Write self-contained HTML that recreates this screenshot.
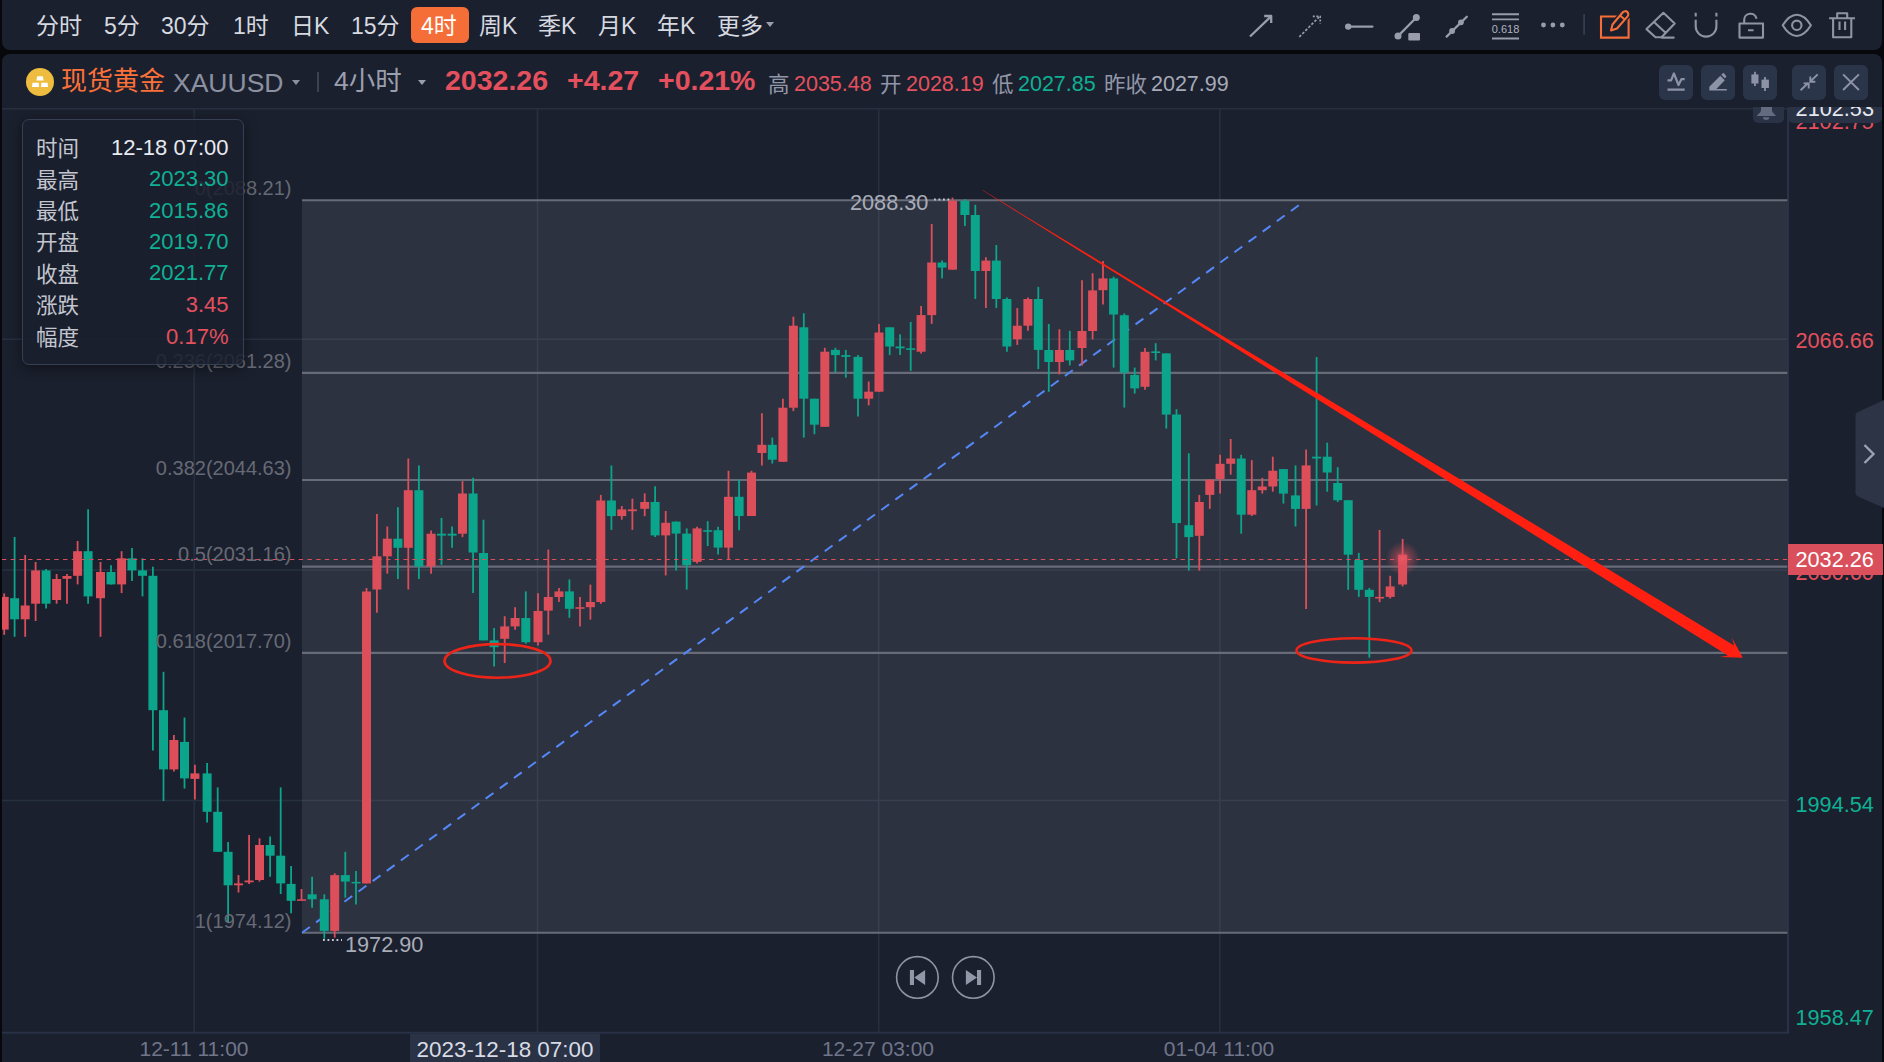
<!DOCTYPE html>
<html lang="zh"><head><meta charset="utf-8"><title>XAUUSD</title>
<style>
*{box-sizing:border-box;margin:0;padding:0}
html,body{width:1884px;height:1062px;overflow:hidden;background:#06080c}
body{font-family:"Liberation Sans","Noto Sans CJK SC",sans-serif;color:#d4d7de;position:relative}
.abs{position:absolute;white-space:nowrap}
#top{position:absolute;left:2px;top:-6px;width:1880px;height:56px;background:#1b202e;border-radius:8px}
#main{position:absolute;left:2px;top:54px;width:1880px;height:1014px;background:#1b202e;border-radius:8px 8px 0 0}
._tb{}.tb{position:absolute;top:9px;height:34px;line-height:34px;font-size:23px;color:#d6d9e0;white-space:nowrap}
.hd{position:absolute;white-space:nowrap;line-height:1}
.btn{position:absolute;top:64.700px;width:34.600px;height:35px;border-radius:6px;background:#2b3549}
.ax{position:absolute;left:1795.500px;font-size:21.700px;line-height:24px;white-space:nowrap}
.tl{position:absolute;top:1036px;font-size:21px;line-height:26px;color:#70768a;white-space:nowrap;transform:translateX(-50%)}
.fl{position:absolute;right:1592.500px;font-size:20px;line-height:24px;color:#666a75;white-space:nowrap;text-align:right}
#tip{position:absolute;left:22px;top:118.500px;width:222px;height:246px;border:1.5px solid #364053;border-radius:7px;background:rgba(27,32,46,.86);box-shadow:0 3px 14px rgba(0,0,0,.45)}
#tip div{position:absolute;left:13px;right:14px;height:30px;line-height:30px;font-size:21.500px;color:#c3c6cf}
#tip div span{position:absolute;right:.5px;top:-1.300px;font-size:22px}
.g{color:#0fb093}.r{color:#e4505d}
</style></head><body>
<div id="top"></div><div id="main"></div>

<div class="tb" style="left:36px">分时</div>
<div class="tb" style="left:104px">5分</div>
<div class="tb" style="left:161px">30分</div>
<div class="tb" style="left:233px">1时</div>
<div class="tb" style="left:291px">日K</div>
<div class="tb" style="left:351px">15分</div>
<div class="tb" style="left:479px">周K</div>
<div class="tb" style="left:538px">季K</div>
<div class="tb" style="left:598px">月K</div>
<div class="tb" style="left:657px">年K</div>
<div class="tb" style="left:717px">更多</div>
<div class="abs" style="left:411px;top:6.500px;width:57.500px;height:36.500px;border-radius:6px;background:#f56d37"></div>
<div class="tb" style="left:421px;color:#fff">4时</div>
<div class="abs" style="left:766px;top:22px;width:0;height:0;border-left:4.5px solid transparent;border-right:4.5px solid transparent;border-top:5px solid #9a9fae"></div>
<svg class="abs" style="left:1240px;top:4px" width="630" height="44" viewBox="1240 4 630 44" fill="none" stroke="#989cab" stroke-width="2.300" stroke-linecap="round" stroke-linejoin="round">
<path d="M1250 36.500 L1270.500 16.800 M1264.200 16 H1271.200 V23.100" stroke-linecap="butt"/>
<g stroke-width="1.700" stroke-linecap="butt"><path d="M1299.300 36.900 L1319.200 16.900" stroke-dasharray="2.600 1.700"/><path d="M1312.800 16.400 H1320.200 V23.600" stroke-dasharray="2 1.500"/></g>
<path d="M1349 26.600 H1372.400" stroke-width="2.300"/><circle cx="1348.200" cy="26.600" r="3.200" fill="#989cab" stroke="none"/>
<path d="M1398 36.100 L1416.300 17.500"/><circle cx="1398" cy="36.100" r="3.500" fill="#989cab" stroke="none"/><circle cx="1416.300" cy="17.500" r="3.500" fill="#989cab" stroke="none"/><rect x="1408.300" y="33" width="11.700" height="7.600" rx="1" fill="#989cab" stroke="none"/>
<path d="M1446.600 36.600 L1466.800 16.700"/><circle cx="1452.100" cy="31" r="2.900" fill="#989cab" stroke="none"/><circle cx="1460.900" cy="22.300" r="2.900" fill="#989cab" stroke="none"/>
<path d="M1492 14.300 H1519 M1492 19.400 H1519 M1492 38.500 H1519" stroke-width="1.900" stroke-linecap="butt"/>
<g fill="#989cab" stroke="none"><circle cx="1543.500" cy="25" r="2.400"/><circle cx="1552.900" cy="25" r="2.400"/><circle cx="1562.300" cy="25" r="2.400"/></g>
<path d="M1584.100 14 V34.800" stroke="#39425a" stroke-width="1.500" stroke-linecap="butt"/>
<g stroke="#f56d37" stroke-width="2.100" stroke-linejoin="miter" stroke-linecap="butt"><path d="M1601 16.500 H1628.600 V37.600 H1601 Z"/><path d="M1611 30.500 L1612.500 24.500 L1622.800 12.300 L1627.600 16.300 L1617 28.500 Z" fill="#1b202e" stroke="#1b202e" stroke-width="5"/><path d="M1611 30.500 L1612.500 24.500 L1622.800 12.300 A3.100 3.100 0 0 1 1627.600 16.300 L1617 28.500 Z M1620 15.500 L1624.800 19.500" stroke-linejoin="round"/></g>
<g stroke="#8f94a4" stroke-width="2.100"><path d="M1646.500 29.100 L1663.400 12.800 L1674.700 23.500 L1661.500 37.300 H1655.500 Z M1654 22 L1665.800 33 M1661.500 37.600 H1673.700"/>
<path d="M1695.700 19.700 V26.300 a10.350 10.350 0 0 0 20.700 0 V19.700 M1695.700 12.800 V16.500 M1716.400 12.800 V16.500" stroke-linecap="butt"/>
<path d="M1739.500 23.500 H1763 V37.600 H1739.500 Z M1744.200 23.500 V20 a6.200 6.200 0 0 1 12.300 -1.200 M1748 30.200 H1753.600" stroke-linecap="butt"/>
<path d="M1782.700 25.300 C1787.500 17.500 1793 14.700 1796.800 14.700 C1800.600 14.700 1806.100 17.500 1810.900 25.300 C1806.100 33.200 1800.600 36 1796.800 36 C1793 36 1787.500 33.200 1782.700 25.300 Z"/><circle cx="1796.800" cy="25.300" r="4.700"/>
<path d="M1829.100 18.200 H1855 M1833.100 18.200 V37.200 H1851.300 V18.200 M1837.200 18.200 V13.200 H1847.200 V18.200 M1839.500 21.600 V30 M1845.100 21.600 V30" stroke-linecap="butt"/></g>
</svg>
<div class="abs" style="left:1490px;top:23.300px;width:31px;font-size:11px;line-height:12px;color:#b0b4c0;text-align:center">0.618</div>
<div class="abs" style="left:26px;top:68px;width:28px;height:28px;border-radius:50%;background:#eebd3f"></div>
<svg class="abs" style="left:26px;top:68px" width="28" height="28" viewBox="0 0 28 28"><path d="M11.300 8.300 h5.400 l1 4.100 h-7.400 Z M6.500 14.800 h6.200 l.4 4.200 h-7.200 Z M15.400 14.800 h6.200 l.5 4.200 h-7.100 Z" fill="#fff"/></svg>
<div class="hd" style="left:61px;top:68px;font-size:26px;color:#fb7139">现货黄金</div>
<div class="hd" style="left:173px;top:70px;font-size:26.500px;color:#8c91a2">XAUUSD</div>
<div class="abs" style="left:291.500px;top:80px;width:0;height:0;border-left:4.5px solid transparent;border-right:4.5px solid transparent;border-top:5px solid #8c91a2"></div>
<div class="abs" style="left:317px;top:72px;width:2px;height:20px;background:#3a4254"></div>
<div class="hd" style="left:334px;top:68px;font-size:26.500px;color:#9a9fb0">4小时</div>
<div class="abs" style="left:417.500px;top:80px;width:0;height:0;border-left:4.5px solid transparent;border-right:4.5px solid transparent;border-top:5px solid #9a9fb0"></div>
<div class="hd r" style="left:445px;top:66px;font-size:28.500px;font-weight:bold">2032.26</div>
<div class="hd r" style="left:567px;top:66px;font-size:28.500px;font-weight:bold">+4.27</div>
<div class="hd r" style="left:658px;top:66px;font-size:28.500px;font-weight:bold">+0.21%</div>
<div class="hd" style="left:768px;top:74.5px;font-size:21.500px;color:#9196a8">高</div>
<div class="hd" style="left:794px;top:73.5px;font-size:21.500px;color:#e4505d">2035.48</div>
<div class="hd" style="left:880px;top:74.5px;font-size:21.500px;color:#9196a8">开</div>
<div class="hd" style="left:906px;top:73.5px;font-size:21.500px;color:#e4505d">2028.19</div>
<div class="hd" style="left:992px;top:74.5px;font-size:21.500px;color:#9196a8">低</div>
<div class="hd" style="left:1018px;top:73.5px;font-size:21.500px;color:#0fb093">2027.85</div>
<div class="hd" style="left:1104px;top:74.5px;font-size:21.500px;color:#9196a8">昨收</div>
<div class="hd" style="left:1151px;top:73.5px;font-size:21.500px;color:#a6aab8">2027.99</div>
<div class="btn" style="left:1658.7px"></div>
<div class="btn" style="left:1700.6px"></div>
<div class="btn" style="left:1742.5px"></div>
<div class="btn" style="left:1791.5px"></div>
<div class="btn" style="left:1833.5px"></div>
<svg class="abs" style="left:1655px;top:60px" width="220" height="44" viewBox="1655 60 220 44" fill="none" stroke="#8d93a6" stroke-width="2.100" stroke-linecap="butt" stroke-linejoin="round">
<path d="M1667.500 80.300 H1671.100 L1673.900 73.400 L1678.500 85 L1681.400 79.200 H1684.700 M1667.500 89.700 H1684.700" stroke-width="2.200"/>
<path d="M1709.300 90.600 V86.700 L1720.300 75.700 L1724.800 80.300 L1716.400 88.900 H1726.800 V90.600 Z M1721.300 74.700 L1723.500 72.700 L1726.500 76.400 L1724.800 78.300 Z" fill="#8d93a6" stroke="none"/>
<path d="M1755 71.800 V86.100 M1765 77 V91" stroke-width="1.800"/><rect x="1751.400" y="74.400" width="7.100" height="9.100" fill="#8d93a6" stroke="none"/><rect x="1761.500" y="79.600" width="7.400" height="8.400" fill="#8d93a6" stroke="none"/>
<path d="M1800.600 90.200 L1808.400 82.800 M1803.600 83.400 H1808.700 V88.600 M1817.700 74.400 L1810.300 81.500 M1810.300 76.600 V81.700 H1815.300" stroke-width="1.900" stroke-linejoin="miter"/>
<path d="M1843.100 74.400 L1858.900 90 M1858.900 74.400 L1843.100 90" stroke-width="2"/>
</svg>
<svg class="abs" style="left:0;top:108px" width="1884" height="954" viewBox="0 108 1884 954">
<defs><radialGradient id="glow"><stop offset="0" stop-color="#ee5866" stop-opacity=".9"/><stop offset=".45" stop-color="#e4505d" stop-opacity=".38"/><stop offset="1" stop-color="#e4505d" stop-opacity="0"/></radialGradient><clipPath id="cp"><rect x="2" y="108" width="1785" height="924"/></clipPath></defs>
<g stroke="#273041" stroke-width="1.5">
<path d="M2 108.7 H1787"/>
<path d="M2 339.3 H1787"/>
<path d="M2 570 H1787"/>
<path d="M2 800.5 H1787"/>
<path d="M194.2 108 V1032"/>
<path d="M537.5 108 V1032"/>
<path d="M878.7 108 V1032"/>
<path d="M1219.8 108 V1032"/>
<path d="M2 1032.700 H1789 M1788 108 V1033.700" stroke="#283145" stroke-width="2"/>
</g>
<rect x="302" y="200.300" width="1485.300" height="732.400" fill="#8b8f9c" fill-opacity=".17"/>
<g stroke="#686b78" stroke-width="2.100">
<path d="M302 200.3 H1787.300"/>
<path d="M302 372.9 H1787.300"/>
<path d="M302 480 H1787.300"/>
<path d="M302 566.6 H1787.300"/>
<path d="M302 652.9 H1787.300"/>
<path d="M302 932.7 H1787.300"/>
</g>
<path d="M302 932.700 L1300.500 204" stroke="#5488f8" stroke-width="2" stroke-dasharray="9.700 7.790"/>
<g clip-path="url(#cp)">
<path d="M4.2 593.4 V634.8" stroke="#dc4e5a" stroke-width="1.800"/><rect x="-0.3" y="596.9" width="9" height="32.7" fill="#dc4e5a"/>
<path d="M14.6 536.9 V636.8" stroke="#0ba58b" stroke-width="1.800"/><rect x="10.1" y="598.2" width="9" height="21.1" fill="#0ba58b"/>
<path d="M25.2 555.0 V636.8" stroke="#dc4e5a" stroke-width="1.800"/><rect x="20.7" y="605.5" width="9" height="13.8" fill="#dc4e5a"/>
<path d="M35.6 562.0 V621.0" stroke="#dc4e5a" stroke-width="1.800"/><rect x="31.1" y="570.4" width="9" height="33.3" fill="#dc4e5a"/>
<path d="M46.1 569.0 V608.5" stroke="#0ba58b" stroke-width="1.800"/><rect x="41.6" y="570.4" width="9" height="33.3" fill="#0ba58b"/>
<path d="M56.6 574.0 V603.7" stroke="#dc4e5a" stroke-width="1.800"/><rect x="52.1" y="579.0" width="9" height="21.0" fill="#dc4e5a"/>
<path d="M67 574.0 V603.7" stroke="#dc4e5a" stroke-width="1.800"/><rect x="62.5" y="576.0" width="9" height="2.8" fill="#dc4e5a"/>
<path d="M77.6 541.0 V584.4" stroke="#dc4e5a" stroke-width="1.800"/><rect x="73.1" y="551.2" width="9" height="24.6" fill="#dc4e5a"/>
<path d="M88.1 509.3 V603.7" stroke="#0ba58b" stroke-width="1.800"/><rect x="83.6" y="551.2" width="9" height="45.2" fill="#0ba58b"/>
<path d="M100.5 562.0 V636.8" stroke="#dc4e5a" stroke-width="1.800"/><rect x="96.0" y="572.0" width="9" height="26.2" fill="#dc4e5a"/>
<path d="M111 565.2 V584.4" stroke="#0ba58b" stroke-width="1.800"/><rect x="106.5" y="572.0" width="9" height="12.4" fill="#0ba58b"/>
<path d="M121.6 551.2 V593.1" stroke="#dc4e5a" stroke-width="1.800"/><rect x="117.1" y="558.3" width="9" height="26.1" fill="#dc4e5a"/>
<path d="M132 547.9 V580.9" stroke="#0ba58b" stroke-width="1.800"/><rect x="127.5" y="558.3" width="9" height="12.1" fill="#0ba58b"/>
<path d="M142.5 558.3 V596.4" stroke="#0ba58b" stroke-width="1.800"/><rect x="138.0" y="570.4" width="9" height="5.4" fill="#0ba58b"/>
<path d="M152.9 566.8 V750.4" stroke="#0ba58b" stroke-width="1.800"/><rect x="148.4" y="575.8" width="9" height="134.4" fill="#0ba58b"/>
<path d="M163.5 671.8 V801.0" stroke="#0ba58b" stroke-width="1.800"/><rect x="159.0" y="710.2" width="9" height="59.2" fill="#0ba58b"/>
<path d="M173.9 735.0 V771.6" stroke="#dc4e5a" stroke-width="1.800"/><rect x="169.4" y="740.0" width="9" height="29.4" fill="#dc4e5a"/>
<path d="M184.5 717.5 V788.6" stroke="#0ba58b" stroke-width="1.800"/><rect x="180.0" y="741.9" width="9" height="36.5" fill="#0ba58b"/>
<path d="M194.9 764.8 V799.4" stroke="#dc4e5a" stroke-width="1.800"/><rect x="190.4" y="773.4" width="9" height="5.5" fill="#dc4e5a"/>
<path d="M207.1 763.0 V822.5" stroke="#0ba58b" stroke-width="1.800"/><rect x="202.6" y="773.4" width="9" height="38.4" fill="#0ba58b"/>
<path d="M217.7 787.4 V851.8" stroke="#0ba58b" stroke-width="1.800"/><rect x="213.2" y="811.8" width="9" height="40.0" fill="#0ba58b"/>
<path d="M228.1 842.1 V921.9" stroke="#0ba58b" stroke-width="1.800"/><rect x="223.6" y="851.8" width="9" height="33.5" fill="#0ba58b"/>
<path d="M238.5 875.1 V892.5" stroke="#dc4e5a" stroke-width="1.800"/><rect x="234.0" y="883.4" width="9" height="1.9" fill="#dc4e5a"/>
<path d="M249.1 834.9 V883.9" stroke="#dc4e5a" stroke-width="1.800"/><rect x="244.6" y="880.5" width="9" height="1.8" fill="#dc4e5a"/>
<path d="M259.5 838.3 V881.6" stroke="#dc4e5a" stroke-width="1.800"/><rect x="255.0" y="845.0" width="9" height="35.0" fill="#dc4e5a"/>
<path d="M270.1 836.5 V876.7" stroke="#0ba58b" stroke-width="1.800"/><rect x="265.6" y="845.0" width="9" height="10.7" fill="#0ba58b"/>
<path d="M280.7 787.4 V894.0" stroke="#0ba58b" stroke-width="1.800"/><rect x="276.2" y="855.7" width="9" height="27.7" fill="#0ba58b"/>
<path d="M291.1 866.0 V913.3" stroke="#0ba58b" stroke-width="1.800"/><rect x="286.6" y="883.9" width="9" height="16.9" fill="#0ba58b"/>
<path d="M301.5 889.0 V900.8" stroke="#dc4e5a" stroke-width="1.800"/><rect x="297.0" y="899.3" width="9" height="1.5" fill="#dc4e5a"/>
<path d="M312.1 876.7 V907.8" stroke="#0ba58b" stroke-width="1.800"/><rect x="307.6" y="894.3" width="9" height="5.0" fill="#0ba58b"/>
<path d="M324.3 894.3 V938.8" stroke="#0ba58b" stroke-width="1.800"/><rect x="319.8" y="899.3" width="9" height="31.6" fill="#0ba58b"/>
<path d="M334.7 873.3 V937.7" stroke="#dc4e5a" stroke-width="1.800"/><rect x="330.2" y="875.1" width="9" height="55.8" fill="#dc4e5a"/>
<path d="M345.3 851.8 V897.7" stroke="#0ba58b" stroke-width="1.800"/><rect x="340.8" y="875.1" width="9" height="6.5" fill="#0ba58b"/>
<path d="M356 871.0 V904.5" stroke="#0ba58b" stroke-width="1.800"/><rect x="351.5" y="881.9" width="9" height="1.5" fill="#0ba58b"/>
<path d="M366.5 588.0 V883.4" stroke="#dc4e5a" stroke-width="1.800"/><rect x="362.0" y="591.5" width="9" height="291.9" fill="#dc4e5a"/>
<path d="M376.9 514.1 V612.8" stroke="#dc4e5a" stroke-width="1.800"/><rect x="372.4" y="556.3" width="9" height="33.2" fill="#dc4e5a"/>
<path d="M387.3 526.5 V573.7" stroke="#dc4e5a" stroke-width="1.800"/><rect x="382.8" y="538.7" width="9" height="17.6" fill="#dc4e5a"/>
<path d="M397.9 507.3 V578.9" stroke="#0ba58b" stroke-width="1.800"/><rect x="393.4" y="538.7" width="9" height="9.1" fill="#0ba58b"/>
<path d="M408.3 458.5 V589.5" stroke="#dc4e5a" stroke-width="1.800"/><rect x="403.8" y="490.2" width="9" height="57.6" fill="#dc4e5a"/>
<path d="M418.9 465.5 V578.9" stroke="#0ba58b" stroke-width="1.800"/><rect x="414.4" y="490.2" width="9" height="76.3" fill="#0ba58b"/>
<path d="M431.1 530.4 V573.7" stroke="#dc4e5a" stroke-width="1.800"/><rect x="426.6" y="533.7" width="9" height="32.8" fill="#dc4e5a"/>
<path d="M441.5 517.9 V564.9" stroke="#0ba58b" stroke-width="1.800"/><rect x="437.0" y="533.7" width="9" height="1.9" fill="#0ba58b"/>
<path d="M452.1 526.5 V547.8" stroke="#0ba58b" stroke-width="1.800"/><rect x="447.6" y="533.7" width="9" height="1.9" fill="#0ba58b"/>
<path d="M462.5 481.1 V537.1" stroke="#dc4e5a" stroke-width="1.800"/><rect x="458.0" y="493.5" width="9" height="40.2" fill="#dc4e5a"/>
<path d="M473.1 477.7 V592.9" stroke="#0ba58b" stroke-width="1.800"/><rect x="468.6" y="493.5" width="9" height="59.0" fill="#0ba58b"/>
<path d="M483.5 519.7 V640.4" stroke="#0ba58b" stroke-width="1.800"/><rect x="479.0" y="553.0" width="9" height="87.4" fill="#0ba58b"/>
<path d="M494.1 628.0 V666.6" stroke="#0ba58b" stroke-width="1.800"/><rect x="489.6" y="640.4" width="9" height="6.8" fill="#0ba58b"/>
<path d="M504.7 616.2 V663.0" stroke="#dc4e5a" stroke-width="1.800"/><rect x="500.2" y="626.4" width="9" height="12.4" fill="#dc4e5a"/>
<path d="M515.1 607.2 V629.8" stroke="#dc4e5a" stroke-width="1.800"/><rect x="510.6" y="618.0" width="9" height="8.4" fill="#dc4e5a"/>
<path d="M525.8 591.4 V643.8" stroke="#0ba58b" stroke-width="1.800"/><rect x="521.3" y="618.0" width="9" height="24.2" fill="#0ba58b"/>
<path d="M538 593.2 V645.6" stroke="#dc4e5a" stroke-width="1.800"/><rect x="533.5" y="611.0" width="9" height="31.2" fill="#dc4e5a"/>
<path d="M548.3 549.6 V634.7" stroke="#dc4e5a" stroke-width="1.800"/><rect x="543.8" y="597.0" width="9" height="13.6" fill="#dc4e5a"/>
<path d="M559 588.0 V602.0" stroke="#dc4e5a" stroke-width="1.800"/><rect x="554.5" y="591.4" width="9" height="5.6" fill="#dc4e5a"/>
<path d="M569.4 579.4 V617.8" stroke="#0ba58b" stroke-width="1.800"/><rect x="564.9" y="591.4" width="9" height="17.4" fill="#0ba58b"/>
<path d="M580 597.0 V626.4" stroke="#dc4e5a" stroke-width="1.800"/><rect x="575.5" y="607.2" width="9" height="1.6" fill="#dc4e5a"/>
<path d="M590.4 584.6 V619.6" stroke="#dc4e5a" stroke-width="1.800"/><rect x="585.9" y="602.0" width="9" height="5.2" fill="#dc4e5a"/>
<path d="M600.8 494.9 V603.8" stroke="#dc4e5a" stroke-width="1.800"/><rect x="596.3" y="500.5" width="9" height="101.5" fill="#dc4e5a"/>
<path d="M611.4 465.5 V529.9" stroke="#0ba58b" stroke-width="1.800"/><rect x="606.9" y="500.5" width="9" height="15.6" fill="#0ba58b"/>
<path d="M621.8 506.0 V519.7" stroke="#dc4e5a" stroke-width="1.800"/><rect x="617.3" y="509.4" width="9" height="6.7" fill="#dc4e5a"/>
<path d="M632.4 498.7 V529.9" stroke="#dc4e5a" stroke-width="1.800"/><rect x="627.9" y="509.4" width="9" height="1.8" fill="#dc4e5a"/>
<path d="M644.7 493.4 V516.2" stroke="#dc4e5a" stroke-width="1.800"/><rect x="640.2" y="502.0" width="9" height="6.8" fill="#dc4e5a"/>
<path d="M655.1 486.2 V537.0" stroke="#0ba58b" stroke-width="1.800"/><rect x="650.6" y="502.0" width="9" height="33.4" fill="#0ba58b"/>
<path d="M665.7 511.0 V575.4" stroke="#dc4e5a" stroke-width="1.800"/><rect x="661.2" y="522.8" width="9" height="12.6" fill="#dc4e5a"/>
<path d="M676.1 521.6 V570.4" stroke="#0ba58b" stroke-width="1.800"/><rect x="671.6" y="521.6" width="9" height="12.0" fill="#0ba58b"/>
<path d="M686.7 528.4 V589.6" stroke="#0ba58b" stroke-width="1.800"/><rect x="682.2" y="533.6" width="9" height="31.6" fill="#0ba58b"/>
<path d="M697.1 526.8 V563.4" stroke="#dc4e5a" stroke-width="1.800"/><rect x="692.6" y="528.4" width="9" height="33.5" fill="#dc4e5a"/>
<path d="M707.7 521.2 V546.0" stroke="#0ba58b" stroke-width="1.800"/><rect x="703.2" y="530.2" width="9" height="1.6" fill="#0ba58b"/>
<path d="M718.1 526.8 V554.6" stroke="#0ba58b" stroke-width="1.800"/><rect x="713.6" y="530.2" width="9" height="17.4" fill="#0ba58b"/>
<path d="M728.5 470.8 V559.6" stroke="#dc4e5a" stroke-width="1.800"/><rect x="724.0" y="496.8" width="9" height="50.8" fill="#dc4e5a"/>
<path d="M739.1 479.4 V530.2" stroke="#0ba58b" stroke-width="1.800"/><rect x="734.6" y="496.8" width="9" height="19.2" fill="#0ba58b"/>
<path d="M751.5 470.8 V516.0" stroke="#dc4e5a" stroke-width="1.800"/><rect x="747.0" y="472.6" width="9" height="43.4" fill="#dc4e5a"/>
<path d="M761.9 413.2 V465.4" stroke="#dc4e5a" stroke-width="1.800"/><rect x="757.4" y="444.8" width="9" height="8.2" fill="#dc4e5a"/>
<path d="M772.3 437.6 V463.6" stroke="#0ba58b" stroke-width="1.800"/><rect x="767.8" y="444.8" width="9" height="14.9" fill="#0ba58b"/>
<path d="M782.9 398.7 V461.8" stroke="#dc4e5a" stroke-width="1.800"/><rect x="778.4" y="407.7" width="9" height="54.1" fill="#dc4e5a"/>
<path d="M793.4 316.7 V411.1" stroke="#dc4e5a" stroke-width="1.800"/><rect x="788.9" y="325.7" width="9" height="82.0" fill="#dc4e5a"/>
<path d="M803.8 313.3 V437.6" stroke="#0ba58b" stroke-width="1.800"/><rect x="799.3" y="327.3" width="9" height="71.4" fill="#0ba58b"/>
<path d="M814.4 398.7 V434.2" stroke="#0ba58b" stroke-width="1.800"/><rect x="809.9" y="398.7" width="9" height="26.0" fill="#0ba58b"/>
<path d="M824.8 347.8 V426.8" stroke="#dc4e5a" stroke-width="1.800"/><rect x="820.3" y="351.7" width="9" height="75.1" fill="#dc4e5a"/>
<path d="M835.4 347.8 V372.5" stroke="#0ba58b" stroke-width="1.800"/><rect x="830.9" y="349.9" width="9" height="5.2" fill="#0ba58b"/>
<path d="M845.8 349.9 V377.7" stroke="#0ba58b" stroke-width="1.800"/><rect x="841.3" y="355.1" width="9" height="1.8" fill="#0ba58b"/>
<path d="M858 355.1 V416.5" stroke="#0ba58b" stroke-width="1.800"/><rect x="853.5" y="356.9" width="9" height="41.8" fill="#0ba58b"/>
<path d="M868.7 381.5 V405.4" stroke="#dc4e5a" stroke-width="1.800"/><rect x="864.2" y="391.7" width="9" height="7.0" fill="#dc4e5a"/>
<path d="M879 323.9 V391.7" stroke="#dc4e5a" stroke-width="1.800"/><rect x="874.5" y="332.5" width="9" height="59.2" fill="#dc4e5a"/>
<path d="M889.7 327.3 V355.1" stroke="#0ba58b" stroke-width="1.800"/><rect x="885.2" y="327.3" width="9" height="19.2" fill="#0ba58b"/>
<path d="M900.1 334.3 V355.1" stroke="#0ba58b" stroke-width="1.800"/><rect x="895.6" y="346.5" width="9" height="1.8" fill="#0ba58b"/>
<path d="M910.7 321.9 V370.9" stroke="#0ba58b" stroke-width="1.800"/><rect x="906.2" y="348.3" width="9" height="1.6" fill="#0ba58b"/>
<path d="M921.1 306.0 V353.5" stroke="#dc4e5a" stroke-width="1.800"/><rect x="916.6" y="315.1" width="9" height="36.6" fill="#dc4e5a"/>
<path d="M931.7 224.0 V323.9" stroke="#dc4e5a" stroke-width="1.800"/><rect x="927.2" y="262.5" width="9" height="52.6" fill="#dc4e5a"/>
<path d="M942.1 260.6 V278.3" stroke="#0ba58b" stroke-width="1.800"/><rect x="937.6" y="262.5" width="9" height="5.1" fill="#0ba58b"/>
<path d="M952.5 197.6 V269.7" stroke="#dc4e5a" stroke-width="1.800"/><rect x="948.0" y="200.8" width="9" height="68.9" fill="#dc4e5a"/>
<path d="M964.9 199.2 V225.9" stroke="#0ba58b" stroke-width="1.800"/><rect x="960.4" y="200.8" width="9" height="14.2" fill="#0ba58b"/>
<path d="M975.3 204.8 V299.0" stroke="#0ba58b" stroke-width="1.800"/><rect x="970.8" y="215.0" width="9" height="56.0" fill="#0ba58b"/>
<path d="M985.9 257.3 V308.1" stroke="#dc4e5a" stroke-width="1.800"/><rect x="981.4" y="260.6" width="9" height="10.4" fill="#dc4e5a"/>
<path d="M996.3 245.0 V308.1" stroke="#0ba58b" stroke-width="1.800"/><rect x="991.8" y="260.6" width="9" height="38.4" fill="#0ba58b"/>
<path d="M1006.9 297.5 V351.7" stroke="#0ba58b" stroke-width="1.800"/><rect x="1002.4" y="299.0" width="9" height="47.5" fill="#0ba58b"/>
<path d="M1017.3 308.1 V344.9" stroke="#dc4e5a" stroke-width="1.800"/><rect x="1012.8" y="325.7" width="9" height="13.6" fill="#dc4e5a"/>
<path d="M1027.9 297.5 V330.7" stroke="#dc4e5a" stroke-width="1.800"/><rect x="1023.4" y="299.0" width="9" height="26.7" fill="#dc4e5a"/>
<path d="M1038.3 286.9 V369.1" stroke="#0ba58b" stroke-width="1.800"/><rect x="1033.8" y="299.0" width="9" height="50.9" fill="#0ba58b"/>
<path d="M1048.8 324.0 V391.8" stroke="#0ba58b" stroke-width="1.800"/><rect x="1044.3" y="350.0" width="9" height="12.0" fill="#0ba58b"/>
<path d="M1059.4 329.2 V374.4" stroke="#dc4e5a" stroke-width="1.800"/><rect x="1054.9" y="350.0" width="9" height="12.0" fill="#dc4e5a"/>
<path d="M1069.8 330.8 V365.4" stroke="#0ba58b" stroke-width="1.800"/><rect x="1065.3" y="350.0" width="9" height="10.4" fill="#0ba58b"/>
<path d="M1082 280.2 V365.4" stroke="#dc4e5a" stroke-width="1.800"/><rect x="1077.5" y="331.0" width="9" height="17.0" fill="#dc4e5a"/>
<path d="M1092.6 273.2 V339.4" stroke="#dc4e5a" stroke-width="1.800"/><rect x="1088.1" y="290.4" width="9" height="40.6" fill="#dc4e5a"/>
<path d="M1103 261.0 V304.4" stroke="#dc4e5a" stroke-width="1.800"/><rect x="1098.5" y="278.4" width="9" height="11.8" fill="#dc4e5a"/>
<path d="M1113.6 276.6 V367.6" stroke="#0ba58b" stroke-width="1.800"/><rect x="1109.1" y="278.4" width="9" height="36.1" fill="#0ba58b"/>
<path d="M1124.3 313.4 V407.6" stroke="#0ba58b" stroke-width="1.800"/><rect x="1119.8" y="315.2" width="9" height="57.4" fill="#0ba58b"/>
<path d="M1134.7 367.6 V393.6" stroke="#0ba58b" stroke-width="1.800"/><rect x="1130.2" y="374.9" width="9" height="13.5" fill="#0ba58b"/>
<path d="M1145 348.0 V389.8" stroke="#dc4e5a" stroke-width="1.800"/><rect x="1140.5" y="351.8" width="9" height="35.0" fill="#dc4e5a"/>
<path d="M1155.7 343.2 V360.4" stroke="#0ba58b" stroke-width="1.800"/><rect x="1151.2" y="351.4" width="9" height="1.6" fill="#0ba58b"/>
<path d="M1166.3 353.4 V428.6" stroke="#0ba58b" stroke-width="1.800"/><rect x="1161.8" y="353.4" width="9" height="61.2" fill="#0ba58b"/>
<path d="M1176.5 409.2 V558.2" stroke="#0ba58b" stroke-width="1.800"/><rect x="1172.0" y="414.5" width="9" height="108.6" fill="#0ba58b"/>
<path d="M1188.8 453.3 V570.6" stroke="#0ba58b" stroke-width="1.800"/><rect x="1184.3" y="525.2" width="9" height="11.9" fill="#0ba58b"/>
<path d="M1199.3 494.9 V570.6" stroke="#dc4e5a" stroke-width="1.800"/><rect x="1194.8" y="502.0" width="9" height="33.8" fill="#dc4e5a"/>
<path d="M1209.8 479.6 V508.9" stroke="#dc4e5a" stroke-width="1.800"/><rect x="1205.3" y="479.6" width="9" height="15.3" fill="#dc4e5a"/>
<path d="M1220.1 454.8 V493.6" stroke="#dc4e5a" stroke-width="1.800"/><rect x="1215.6" y="463.8" width="9" height="15.3" fill="#dc4e5a"/>
<path d="M1230.7 439.0 V474.6" stroke="#dc4e5a" stroke-width="1.800"/><rect x="1226.2" y="458.5" width="9" height="5.3" fill="#dc4e5a"/>
<path d="M1241.2 454.8 V533.7" stroke="#0ba58b" stroke-width="1.800"/><rect x="1236.7" y="458.5" width="9" height="56.2" fill="#0ba58b"/>
<path d="M1251.8 460.1 V516.0" stroke="#dc4e5a" stroke-width="1.800"/><rect x="1247.3" y="490.2" width="9" height="24.5" fill="#dc4e5a"/>
<path d="M1262.3 477.8 V493.6" stroke="#dc4e5a" stroke-width="1.800"/><rect x="1257.8" y="486.5" width="9" height="3.7" fill="#dc4e5a"/>
<path d="M1272.8 456.7 V491.7" stroke="#dc4e5a" stroke-width="1.800"/><rect x="1268.3" y="470.7" width="9" height="15.8" fill="#dc4e5a"/>
<path d="M1283.4 469.1 V503.6" stroke="#0ba58b" stroke-width="1.800"/><rect x="1278.9" y="469.1" width="9" height="24.5" fill="#0ba58b"/>
<path d="M1295.5 465.4 V526.5" stroke="#0ba58b" stroke-width="1.800"/><rect x="1291.0" y="495.4" width="9" height="13.5" fill="#0ba58b"/>
<path d="M1306.1 449.6 V609.1" stroke="#dc4e5a" stroke-width="1.800"/><rect x="1301.6" y="465.4" width="9" height="43.5" fill="#dc4e5a"/>
<path d="M1316.6 357.0 V505.5" stroke="#0ba58b" stroke-width="1.800"/><rect x="1312.1" y="456.7" width="9" height="1.8" fill="#0ba58b"/>
<path d="M1327.2 442.7 V491.7" stroke="#0ba58b" stroke-width="1.800"/><rect x="1322.7" y="456.7" width="9" height="15.8" fill="#0ba58b"/>
<path d="M1337.7 467.2 V502.0" stroke="#0ba58b" stroke-width="1.800"/><rect x="1333.2" y="483.0" width="9" height="17.2" fill="#0ba58b"/>
<path d="M1348.2 500.2 V589.8" stroke="#0ba58b" stroke-width="1.800"/><rect x="1343.7" y="500.2" width="9" height="54.5" fill="#0ba58b"/>
<path d="M1358.8 552.9 V596.9" stroke="#0ba58b" stroke-width="1.800"/><rect x="1354.3" y="560.0" width="9" height="29.8" fill="#0ba58b"/>
<path d="M1369.3 588.0 V657.6" stroke="#0ba58b" stroke-width="1.800"/><rect x="1364.8" y="589.8" width="9" height="7.1" fill="#0ba58b"/>
<path d="M1379.6 530.0 V602.2" stroke="#dc4e5a" stroke-width="1.800"/><rect x="1375.1" y="596.9" width="9" height="1.6" fill="#dc4e5a"/>
<path d="M1390.2 575.8 V598.5" stroke="#dc4e5a" stroke-width="1.800"/><rect x="1385.7" y="586.4" width="9" height="10.5" fill="#dc4e5a"/>
<path d="M1402.6 538.9 V586.4" stroke="#dc4e5a" stroke-width="1.800"/><rect x="1398.1" y="554.7" width="9" height="29.8" fill="#dc4e5a"/>
</g>
<path d="M1.900 559.500 H1788" stroke="#d9505c" stroke-width="1.200" stroke-dasharray="4.400 4.330"/>
<circle cx="1402.600" cy="558.500" r="17" fill="url(#glow)"/>
<ellipse cx="497.500" cy="660.900" rx="53" ry="16.800" fill="none" stroke="#ee2418" stroke-width="2.6"/>
<ellipse cx="1354" cy="650.400" rx="57.500" ry="12.200" fill="none" stroke="#ee2418" stroke-width="2.6"/>
<polygon fill="#ff2012" points="982.4,190.3 1049.7,232.3 1099.5,263.3 1163.4,302.8 1275.8,373.2 1338.5,412.5 1448.0,481.0 1597.4,574.2 1727.9,655.6 1719.7,657.1 1742.8,657.8 1731.8,637.5 1734.1,645.5 1602.6,565.8 1452.0,474.4 1341.5,407.6 1278.2,369.4 1164.6,300.9 1100.5,261.7 1050.3,231.2 982.6,190.1"/>
<path d="M934 199.500 H952" stroke="#c8cbd3" stroke-width="2" stroke-dasharray="1.800 2.700"/>
<path d="M323 940 H342" stroke="#c8cbd3" stroke-width="2" stroke-dasharray="1.800 2.700"/>
<g fill="none" stroke="#8f94a5" stroke-width="1.600"><circle cx="917.400" cy="977.400" r="20.800"/><circle cx="973.300" cy="977.400" r="20.800"/></g>
<g fill="#9297a8"><path d="M925.100 970.100 V985 L914.300 977.500 Z"/><rect x="909.900" y="970" width="4.100" height="15"/><path d="M965.900 970.100 V985 L977 977.500 Z"/><rect x="977" y="970" width="4.100" height="15"/></g>
<path d="M1884 400 L1858 412 a4 4 0 0 0 -2.500 3.500 V493 a4 4 0 0 0 2.500 3.500 L1884 508 Z" fill="#2d3445"/>
<path d="M1864.500 445 L1873.500 454 L1864.500 463" fill="none" stroke="#9da2b3" stroke-width="2.4"/>
</svg>
<div class="abs" style="left:850px;top:191px;font-size:21.700px;line-height:24px;color:#a9adb8">2088.30</div>
<div class="abs" style="left:345px;top:933px;font-size:21.700px;line-height:24px;color:#a9adb8">1972.90</div>
<div class="fl" style="top:176px">0(2088.21)</div>
<div class="fl" style="top:349px">0.236(2061.28)</div>
<div class="fl" style="top:456px">0.382(2044.63)</div>
<div class="fl" style="top:542px">0.5(2031.16)</div>
<div class="fl" style="top:629px">0.618(2017.70)</div>
<div class="fl" style="top:909px">1(1974.12)</div>
<div class="ax r" style="top:110.2px">2102.75</div>
<div class="ax r" style="top:329.3px">2066.66</div>
<div class="ax r" style="top:561.3px">2030.60</div>
<div class="ax g" style="top:792.5px">1994.54</div>
<div class="ax g" style="top:1005.6px">1958.47</div>
<div class="abs" style="left:1788px;top:544px;width:94.500px;height:31px;background:#d9505c"></div>
<div class="ax" style="top:547.500px;color:#fff">2032.26</div>
<div class="abs" style="left:1787.600px;top:107px;width:94.600px;height:16.400px;background:#2a3346;border-radius:0 0 5px 5px;overflow:hidden"><div class="abs" style="left:8px;top:-10.300px;font-size:21.700px;line-height:24px;color:#e6e8ee">2102.53</div></div>
<div class="abs" style="left:1753.300px;top:107px;width:31px;height:16.400px;background:#2a3346;border-radius:0 0 5px 5px;overflow:hidden"><svg class="abs" style="left:0;top:0" width="31" height="17" viewBox="0 0 31 17"><path d="M8 0 H19 V3 C19 6 22.500 7 22.700 9 H4 C4.200 7 8 6 8 3 Z M10 10.200 H16.300 A3.150 2.600 0 0 1 10 10.200 Z" fill="#646a80"/></svg></div>
<div class="tl" style="left:194px">12-11 11:00</div>
<div class="tl" style="left:878px">12-27 03:00</div>
<div class="tl" style="left:1219px">01-04 11:00</div>
<div class="abs" style="left:410px;top:1034px;width:190px;height:28px;background:#2a3346"></div>
<div class="tl" style="left:505px;top:1037px;color:#d9dce4;font-size:22.400px">2023-12-18 07:00</div>
<div id="tip">
<div style="top:14.5px">时间<span class="" style="color:#e8eaef">12-18 07:00</span></div>
<div style="top:46px">最高<span class="g">2023.30</span></div>
<div style="top:77.5px">最低<span class="g">2015.86</span></div>
<div style="top:108.5px">开盘<span class="g">2019.70</span></div>
<div style="top:140px">收盘<span class="g">2021.77</span></div>
<div style="top:171.5px">涨跌<span class="r">3.45</span></div>
<div style="top:203.5px">幅度<span class="r">0.17%</span></div>
</div>
</body></html>
